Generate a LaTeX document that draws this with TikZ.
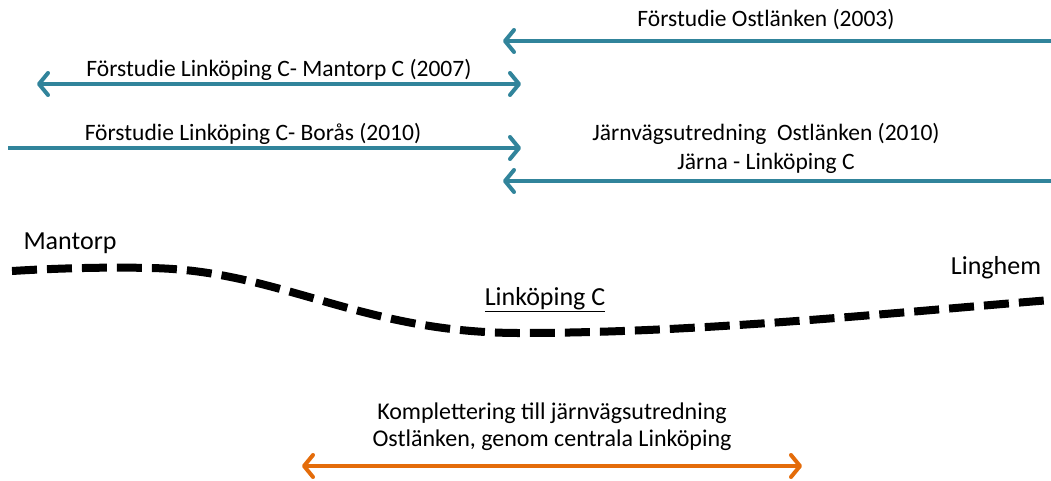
\documentclass[tikz,border=0pt]{standalone}
\usepackage{fontspec}
\setmainfont{Carlito}
\usetikzlibrary{arrows.meta}
\definecolor{studyteal}{HTML}{31849B}
\definecolor{workorange}{HTML}{E46C0A}

\begin{document}
\begin{tikzpicture}[x=1pt,y=-1pt,
        >={Straight Barb[length=9pt,width=22pt,round]},
        study/.style={draw=studyteal,line width=4pt},
        extra/.style={draw=workorange,line width=4pt},
        track/.style={line width=8pt,dash pattern=on 25pt off 10pt},
        station/.style={font=\fontsize{26}{30}\selectfont},
        font=\fontsize{23.5}{28}\selectfont,inner sep=0pt]
    \useasboundingbox (0,0) rectangle (1051,480);

    % studies
    \node (ost)  at (766,20)  {Förstudie Ostlänken (2003)};
    \node (man)  at (279,70)  {Förstudie Linköping C- Mantorp C (2007)};
    \node (bor)  at (253,134) {Förstudie Linköping C- Borås (2010)};
    \node (jvu)  at (766,134) {Järnvägsutredning\ \ Ostlänken (2010)};
    \node (jarn) at (766,163) {Järna - Linköping C};

    \coordinate (ostR) at (1051,41);  \coordinate (ostL) at (503,41);
    \coordinate (manL) at (37,84);    \coordinate (manR) at (521,84);
    \coordinate (borL) at (8,148);    \coordinate (borR) at (521,148);
    \coordinate (jvuR) at (1051,181); \coordinate (jvuL) at (503,181);

    \draw[study,->]  (ostR) -- (ostL);
    \draw[study,<->] (manL) -- (manR);
    \draw[study,->]  (borL) -- (borR);
    \draw[study,->]  (jvuR) -- (jvuL);

    % stations and track
    \node[station] (mantorp) at (70,243)  {Mantorp};
    \node[station] (linkc)   at (545,300) {\underline{Linköping C}};
    \node[station] (linghem) at (996,268) {Linghem};

    \coordinate (trA) at (12,271);
    \coordinate (trB) at (150,268);
    \coordinate (trC) at (520,333);
    \coordinate (trD) at (1051,300);
    \draw[track] (trA) .. controls (60,268) and (110,267) .. (trB)
                       .. controls (280,270) and (360,333) .. (trC)
                       .. controls (700,333) and (900,312) .. (trD);

    % complement
    \node[font=\fontsize{24}{28}\selectfont] (kompl) at (552,413) {Komplettering till järnvägsutredning};
    \node[font=\fontsize{24}{28}\selectfont] (genom) at (552,440) {Ostlänken, genom centrala Linköping};
    \coordinate (kmpL) at (302,466); \coordinate (kmpR) at (802,466);
    \draw[extra,<->] (kmpL) -- (kmpR);
\end{tikzpicture}
\end{document}
